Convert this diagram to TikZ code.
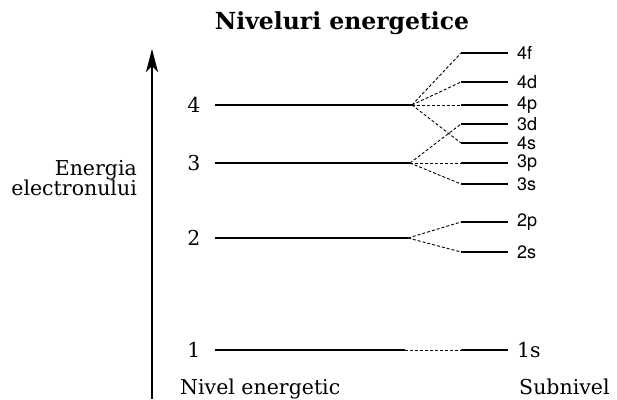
\documentclass[tikz,border=0pt]{standalone}
\usepackage{fontspec}
\setmainfont{DejaVu Serif}
\setsansfont{TeX Gyre Heros}
\usetikzlibrary{arrows.meta}
\begin{document}
\begin{tikzpicture}[x=1pt,y=-1pt,
  solidline/.style={line width=1.2pt},
  branch/.style={line width=0.9pt, dash pattern=on 3pt off 2pt},
  serif/.style={font=\fontsize{20.5}{24}\selectfont, inner sep=0pt},
  sublab/.style={font=\sffamily\fontsize{18}{21}\selectfont, inner sep=0pt, anchor=west},
]
\useasboundingbox (0,0) rectangle (617,399);

% title
\node[serif, font=\bfseries\fontsize{23.5}{27}\selectfont, anchor=base] (title) at (342,29) {Niveluri energetice};

% axis
\coordinate (ab) at (152,399);
\coordinate (at) at (152,49);
\draw[solidline, -{Stealth[length=23pt,width=12pt,inset=6pt]}] (ab) -- (at);

\node[serif, anchor=base east] (en1) at (137,175) {Energia};
\node[serif, anchor=base east] (en2) at (137,195) {electronului};

\node[serif, anchor=base west] (nivel) at (180,394) {Nivel energetic};
\node[serif, anchor=base west] (subn) at (519,394) {Subnivel};

% level numbers
\node[serif] (n4) at (194,105) {4};
\node[serif] (n3) at (194,163) {3};
\node[serif] (n2) at (194,238) {2};
\node[serif] (n1) at (194,350) {1};

% level lines
\coordinate (a4) at (215,105); \coordinate (b4) at (412,105);
\coordinate (a3) at (215,163); \coordinate (b3) at (410,163);
\coordinate (a2) at (215,238); \coordinate (b2) at (408,238);
\coordinate (a1) at (215,350); \coordinate (b1) at (405,350);
\draw[solidline] (a4) -- (b4);
\draw[solidline] (a3) -- (b3);
\draw[solidline] (a2) -- (b2);
\draw[solidline] (a1) -- (b1);

% sublevels
\foreach \nm/\yy/\lab in {4f/53/4f, 4d/82/4d, 4p/105/4p, 3d/124/3d, 4s/143/4s, 3p/163/3p, 3s/184/3s, 2p/222/2p, 2s/252/2s}{
  \coordinate (s\nm) at (461,\yy);
  \coordinate (e\nm) at (508,\yy);
  \draw[solidline] (s\nm) -- (e\nm);
  \node[sublab] (t\nm) at (517,\yy) {\lab};
}
\coordinate (s1s) at (461,350);
\coordinate (e1s) at (508,350);
\draw[solidline] (s1s) -- (e1s);
\node[serif, anchor=west] (t1s) at (517,350) {1s};

% branches
\foreach \t in {4f,4d,4p,4s} \draw[branch] (b4) -- (s\t);
\foreach \t in {3d,3p,3s} \draw[branch] (b3) -- (s\t);
\foreach \t in {2p,2s} \draw[branch] (b2) -- (s\t);
\draw[branch] (b1) -- (s1s);
\end{tikzpicture}
\end{document}
